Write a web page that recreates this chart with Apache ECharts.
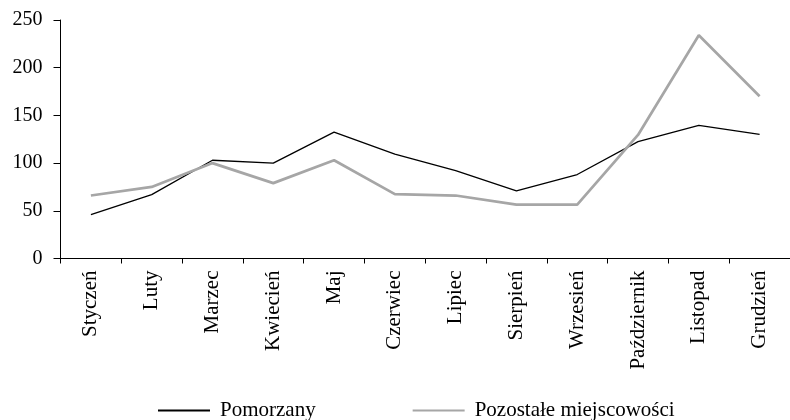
<!DOCTYPE html>
<html><head><meta charset="utf-8">
<script src="https://cdn.jsdelivr.net/npm/echarts@6/dist/echarts.min.js"></script>
<style>html,body{margin:0;padding:0;background:#fff}#c{width:790px;height:420px}</style>
</head><body><div id="c"></div>
<script>
const categories = ['Styczeń','Luty','Marzec','Kwiecień','Maj','Czerwiec','Lipiec','Sierpień','Wrzesień','Październik','Listopad','Grudzień'];
const pomorzany = [46, 67, 103, 100, 132.5, 109.5, 92, 71, 88, 122.5, 139.5, 130];
const pozostale = [66, 75, 100, 79, 103, 67.5, 66, 56.5, 56.5, 129.5, 234, 170];
const yTicks = [0, 50, 100, 150, 200, 250];
const FONT = '"Liberation Serif","Times New Roman",serif';
const chart = echarts.init(document.getElementById('c'), null, {renderer:'canvas'});
chart.setOption({
  animation: false,
  backgroundColor: '#fff',
  grid: {left: 60.5, top: 20, width: 734.5, bottom: 161.5, containLabel: false},
  legend: {
    orient: 'horizontal', padding: 0,
    left: 157, top: 400, itemWidth: 52, itemHeight: 14, itemGap: 96,
    itemStyle: {opacity: 0},
    textStyle: {fontFamily: FONT, fontSize: 21, color: '#000', padding: [0, 0, 0, 5]},
    data: ['Pomorzany', 'Pozostałe miejscowości']
  },
  xAxis: {
    type: 'category', data: categories, boundaryGap: true,
    axisLine: {lineStyle: {color: '#000', width: 1}},
    axisTick: {show: true, length: 5, lineStyle: {color: '#000'}},
    axisLabel: {rotate: 90, margin: 12, interval: 0, fontFamily: FONT, fontSize: 21, color: '#000'},
    splitLine: {show: false}
  },
  yAxis: {
    type: 'value', min: yTicks[0], max: yTicks[yTicks.length-1], interval: 50,
    axisLine: {show: true, lineStyle: {color: '#000', width: 1}},
    axisTick: {show: true, length: 7, lineStyle: {color: '#000'}},
    axisLabel: {margin: 18, fontFamily: FONT, fontSize: 20, color: '#000'},
    splitLine: {show: false}
  },
  series: [
    {name: 'Pomorzany', type: 'line', data: pomorzany, symbol: 'none', lineStyle: {color: '#000', width: 1.3}, itemStyle: {color: '#000'}},
    {name: 'Pozostałe miejscowości', type: 'line', data: pozostale, symbol: 'none', lineStyle: {color: '#a6a6a6', width: 2.7}, itemStyle: {color: '#a6a6a6'}}
  ]
});
</script></body></html>
